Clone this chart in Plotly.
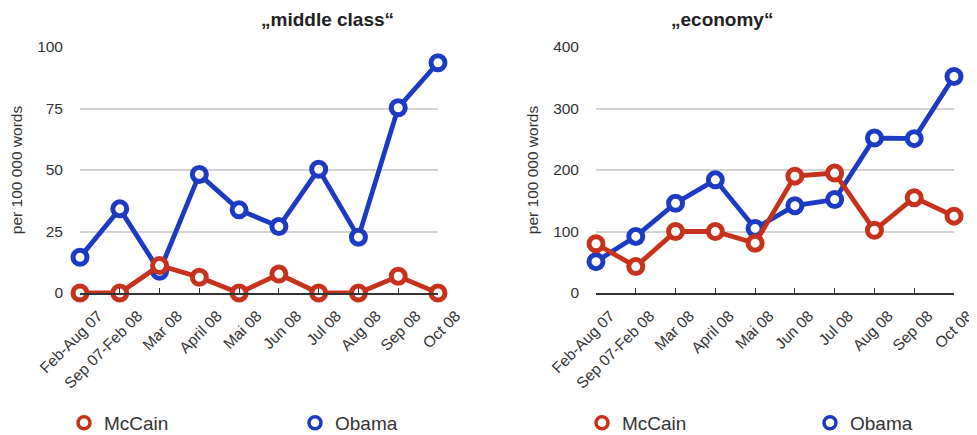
import plotly.graph_objects as go

categories = ["Feb-Aug 07", "Sep 07-Feb 08", "Mar 08", "April 08", "Mai 08",
              "Jun 08", "Jul 08", "Aug 08", "Sep 08", "Oct 08"]

mc_obama = [14.5, 34.2, 8.8, 48.2, 33.8, 27.0, 50.3, 22.7, 75.3, 93.6]
mc_mccain = [0, 0, 11.2, 6.4, 0, 7.7, 0, 0, 6.8, 0]

ec_obama = [51, 92, 146, 184, 105, 142, 152, 252, 251, 352]
ec_mccain = [80, 43, 100, 100, 81, 190, 195, 102, 155, 125]

mc_ticks = [0, 25, 50, 75, 100]
ec_ticks = [0, 100, 200, 300, 400]

RED = "#c6321b"
BLUE = "#1c3bc2"
FONT = "Liberation Sans"

# page body has an 8px margin; figure is a little larger than the window so
# the legends and rotated labels fit inside it without pushing the margins
W, H = 990, 450
L, T = 72, 39
PW = 874
R = W - L - PW
PH = 246
B = H - T - PH
BOTTOM = T + PH          # y pixel of the x axis inside the figure

fig = go.Figure()

def add_series(y, color, xa, ya):
    fig.add_trace(go.Scatter(
        x=list(range(len(categories))), y=y, mode="lines+markers",
        line=dict(color=color, width=4.8),
        marker=dict(symbol="circle", size=14, color="white",
                    line=dict(color=color, width=5)),
        xaxis=xa, yaxis=ya, showlegend=False, cliponaxis=False))

add_series(mc_obama, BLUE, "x", "y")
add_series(mc_mccain, RED, "x", "y")
add_series(ec_obama, BLUE, "x2", "y2")
add_series(ec_mccain, RED, "x2", "y2")

legend_items = [("legend", "McCain", RED, 56), ("legend2", "Obama", BLUE, 287),
                ("legend3", "McCain", RED, 574), ("legend4", "Obama", BLUE, 802)]
legend_layout = {}
for leg, name, color, px in legend_items:
    fig.add_trace(go.Scatter(
        x=[None], y=[None], mode="markers", name=name,
        marker=dict(symbol="circle", size=12, color="white",
                    line=dict(color=color, width=3.5)),
        legend=leg, xaxis="x", yaxis="y"))
    legend_layout[leg] = dict(
        x=(px - L) / PW, xanchor="left", y=(BOTTOM - 415) / PH, yanchor="middle",
        font=dict(family=FONT, size=19, color="#333333"), bgcolor="rgba(0,0,0,0)")

split = 358 / 874
xcommon = dict(
    tickmode="array", tickvals=list(range(len(categories))), ticktext=categories,
    range=[0, len(categories) - 1], tickangle=-45, showgrid=False,
    showline=True, linecolor="#333333", linewidth=1.5,
    ticks="inside", ticklen=5, tickcolor="#333333",
    tickfont=dict(family=FONT, size=15.5, color="#333333"),
    ticklabelstandoff=6, ticklabeloverflow="allow",
    zeroline=False, fixedrange=True, automargin=False)
ycommon = dict(
    showgrid=True, gridcolor="#d2d2d2", gridwidth=1.8, showline=False,
    zeroline=False, ticks="", tickfont=dict(family=FONT, size=15.5, color="#333333"),
    ticklabelstandoff=16, automargin=False,
    title=dict(text="per 100 000 words", font=dict(family=FONT, size=15.5, color="#333333"),
               standoff=10))

fig.update_layout(
    width=W, height=H,
    margin=dict(l=L, r=R, t=T, b=B),
    plot_bgcolor="white", paper_bgcolor="white",
    xaxis=dict(domain=[0, split], ticklabelshift=18, **xcommon),
    xaxis2=dict(domain=[1 - split, 1], anchor="y2", ticklabelshift=14, **xcommon),
    yaxis=dict(domain=[0, 1], range=[0, 100], tickvals=mc_ticks, anchor="x", **ycommon),
    yaxis2=dict(domain=[0, 1], range=[0, 400], tickvals=ec_ticks, anchor="x2", **ycommon),
    annotations=[
        dict(text="<b>„middle class“</b>", x=split / 2, y=1.0, xref="paper", yref="paper",
             yanchor="middle", yshift=28, showarrow=False,
             font=dict(family=FONT, size=19, color="#222222")),
        dict(text="<b>„economy“</b>", x=1 - split / 2, y=1.0, xref="paper", yref="paper",
             yanchor="middle", yshift=28, showarrow=False,
             font=dict(family=FONT, size=19, color="#222222")),
    ],
    **legend_layout,
)

fig.write_html("out.html")
